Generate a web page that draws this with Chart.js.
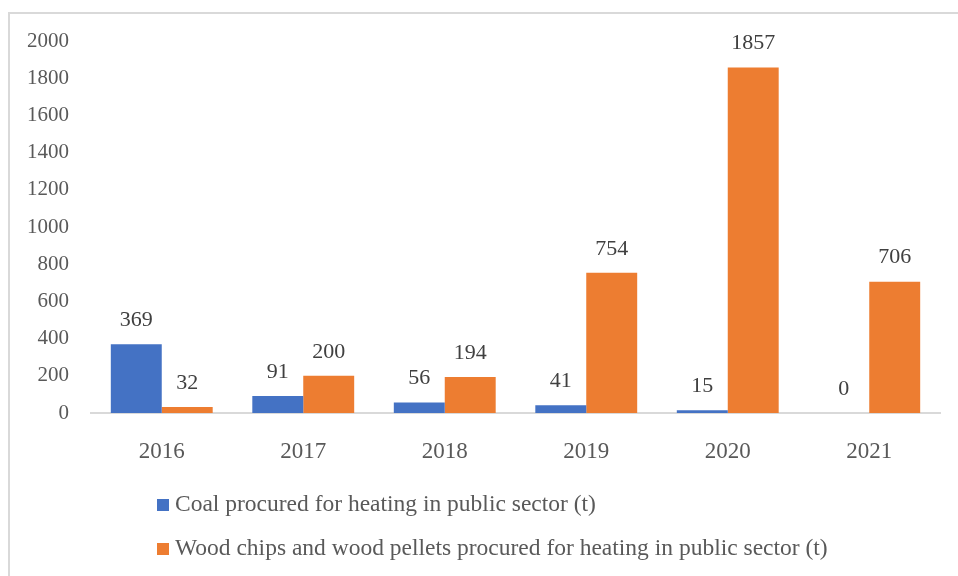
<!DOCTYPE html>
<html>
<head>
<meta charset="utf-8">
<script src="https://cdn.jsdelivr.net/npm/chart.js@4/dist/chart.umd.min.js"></script>
<style>
  body { margin: 0; background: #fff; overflow: hidden; }
  #wrap { position: relative; width: 958px; height: 576px; }
  #frame { position: absolute; left: 8px; top: 12px; width: 960px; height: 580px;
           border-left: 2px solid #d9d9d9; border-top: 2px solid #d9d9d9; }
  #chart { position: absolute; left: 0; top: 0; }
  #legend { position: absolute; left: 157px; top: 488px; font-family: 'Liberation Serif', serif;
            font-size: 23.5px; color: #595959; }
  #legend div { height: 44px; line-height: 30px; white-space: nowrap; }
  #legend span.box { display: inline-block; width: 12px; height: 12px; margin-right: 6px; }
</style>
</head>
<body>
<div id="wrap">
  <div id="frame"></div>
  <canvas id="chart" width="958" height="576"></canvas>
  <div id="legend"></div>
</div>
<script>
const years = ['2016', '2017', '2018', '2019', '2020', '2021'];
const coal = [369, 91, 56, 41, 15, 0];
const wood = [32, 200, 194, 754, 1857, 706];
const seriesNames = [
  'Coal procured for heating in public sector (t)',
  'Wood chips and wood pellets procured for heating in public sector (t)'
];
const seriesColors = ['#4472C4', '#ED7D31'];
const yTicks = [0, 200, 400, 600, 800, 1000, 1200, 1400, 1600, 1800, 2000];

const fontFamily = "'Liberation Serif', serif";

// values drawn above each bar
const barLabels = {
  id: 'barLabels',
  afterDatasetsDraw(chart) {
    const ctx = chart.ctx;
    ctx.save();
    ctx.font = '22px ' + fontFamily;
    ctx.fillStyle = '#404040';
    ctx.textAlign = 'center';
    ctx.textBaseline = 'middle';
    chart.data.datasets.forEach((ds, i) => {
      chart.getDatasetMeta(i).data.forEach((bar, j) => {
        ctx.fillText(ds.data[j], bar.x, bar.y - 24);
      });
    });
    ctx.restore();
  }
};

new Chart(document.getElementById('chart'), {
  type: 'bar',
  data: {
    labels: years,
    datasets: [
      { label: seriesNames[0], data: coal, backgroundColor: seriesColors[0] },
      { label: seriesNames[1], data: wood, backgroundColor: seriesColors[1] }
    ]
  },
  options: {
    responsive: false,
    animation: false,
    layout: { padding: { left: 0, right: 18, top: 41, bottom: 0 } },
    datasets: { bar: { barPercentage: 1, categoryPercentage: 0.72 } },
    plugins: { legend: { display: false }, tooltip: { enabled: false } },
    scales: {
      x: {
        grid: { display: false },
        border: { display: true, color: '#d9d9d9', width: 2 },
        ticks: { color: '#595959', font: { family: fontFamily, size: 23 }, padding: 17 },
        afterFit(scale) { scale.height = 163; }
      },
      y: {
        min: 0,
        max: 2000,
        grid: { display: false },
        border: { display: false },
        afterBuildTicks(scale) { scale.ticks = yTicks.map(v => ({ value: v })); },
        ticks: {
          color: '#595959',
          font: { family: fontFamily, size: 21 },
          padding: 14,
          callback: v => String(v)
        },
        afterFit(scale) { scale.width = 91; }
      }
    }
  },
  plugins: [barLabels]
});

const legend = document.getElementById('legend');
seriesNames.forEach((name, i) => {
  const row = document.createElement('div');
  const box = document.createElement('span');
  box.className = 'box';
  box.style.background = seriesColors[i];
  row.appendChild(box);
  row.appendChild(document.createTextNode(name));
  legend.appendChild(row);
});
</script>
</body>
</html>
